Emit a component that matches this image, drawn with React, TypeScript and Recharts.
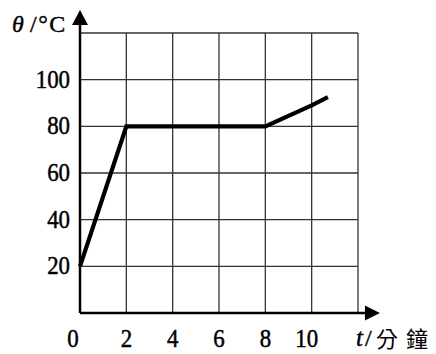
import React from 'react';
import {
  LineChart,
  Line,
  XAxis,
  YAxis,
  CartesianGrid,
  ReferenceLine,
  ReferenceDot,
} from 'recharts';

// time (minutes) and temperature (°C)
const times = [0, 2, 8, 10, 10.7];
const temps = [20, 80, 80, 89, 92.5];

const xTicks = [0, 2, 4, 6, 8, 10, 12];
const yTicks = [0, 20, 40, 60, 80, 100, 120];
const xLabelled = [0, 2, 4, 6, 8, 10];
const yLabelled = [20, 40, 60, 80, 100];

const xAxisEnd = 12.3;
const yAxisEnd = 123.4;

const data = times.map((t, i) => ({ t, temp: temps[i] }));

const FONT = '"Liberation Serif", "Times New Roman", Times, serif';
const CJK = '"Noto Sans CJK TC", "Noto Sans CJK SC", sans-serif';

const xNudge = (v: number) => (v === 0 ? -7 : v === 10 ? -5 : 0);

const renderXTick = (props: any) => {
  const { x, y, payload } = props;
  if (!xLabelled.includes(payload.value)) return <g />;
  return (
    <g transform={`translate(${x + xNudge(payload.value)},${y + 34}) scale(0.88,1)`}>
      <text
        x={0}
        y={0}
        textAnchor="middle"
        fontFamily={FONT}
        fontSize={26}
        fill="#000"
        stroke="#000"
        strokeWidth={0.5}
      >
        {payload.value}
      </text>
    </g>
  );
};

const renderYTick = (props: any) => {
  const { x, y, payload } = props;
  if (!yLabelled.includes(payload.value)) return <g />;
  return (
    <g transform={`translate(${x},${y + 8}) scale(0.88,1)`}>
      <text
        x={0}
        y={0}
        textAnchor="end"
        fontFamily={FONT}
        fontSize={26}
        fill="#000"
        stroke="#000"
        strokeWidth={0.5}
      >
        {payload.value}
      </text>
    </g>
  );
};

const RightArrow = (props: any) => {
  const { cx, cy } = props;
  return <polygon points={`${cx},${cy - 7.5} ${cx + 15},${cy} ${cx},${cy + 7.5}`} fill="#000" />;
};

const UpArrow = (props: any) => {
  const { cx, cy } = props;
  return <polygon points={`${cx - 8},${cy} ${cx},${cy - 15} ${cx + 8},${cy}`} fill="#000" />;
};

const titleBase: React.CSSProperties = {
  position: 'absolute',
  color: '#000',
  whiteSpace: 'nowrap',
  WebkitTextStroke: '0.4px #000',
};

export default function App() {
  return (
    <div style={{ position: 'absolute', left: 0, top: 0, width: 436, height: 354, background: '#fff' }}>
      <LineChart
        width={436}
        height={354}
        data={data}
        margin={{ top: 33, right: 78, bottom: 0, left: 0 }}
      >
        <CartesianGrid stroke="#333" strokeWidth={1.3} />
        <XAxis
          dataKey="t"
          type="number"
          domain={[0, 12]}
          ticks={xTicks}
          height={41}
          axisLine={false}
          tickLine={false}
          tickMargin={0}
          tickSize={0}
          tick={renderXTick}
          interval={0}
        />
        <YAxis
          type="number"
          domain={[0, 120]}
          ticks={yTicks}
          width={80}
          axisLine={false}
          tickLine={false}
          tickSize={0}
          tickMargin={10}
          tick={renderYTick}
          interval={0}
        />
        <ReferenceLine
          segment={[{ x: 0, y: 0 }, { x: xAxisEnd, y: 0 }]}
          stroke="#000"
          strokeWidth={2.5}
          ifOverflow="visible"
        />
        <ReferenceLine
          segment={[{ x: 0, y: 0 }, { x: 0, y: yAxisEnd }]}
          stroke="#000"
          strokeWidth={2.5}
          ifOverflow="visible"
        />
        <ReferenceDot x={xAxisEnd} y={0} ifOverflow="visible" shape={<RightArrow />} />
        <ReferenceDot x={0} y={yAxisEnd} ifOverflow="visible" shape={<UpArrow />} />
        <Line
          type="linear"
          dataKey="temp"
          stroke="#000"
          strokeWidth={4.2}
          dot={false}
          isAnimationActive={false}
          strokeLinejoin="miter"
        />
      </LineChart>
      <div style={{ position: 'absolute', left: 0, top: 0, width: 436, height: 354, pointerEvents: 'none' }}>
        <span
          style={{
            ...titleBase,
            left: 12,
            top: 10,
            fontFamily: FONT,
            fontStyle: 'italic',
            fontSize: 24,
            lineHeight: '28px',
          }}
        >
          θ
        </span>
        <span
          style={{
            ...titleBase,
            left: 30,
            top: 10,
            fontFamily: FONT,
            fontSize: 24,
            lineHeight: '28px',
            letterSpacing: 1.5,
          }}
        >
          /°C
        </span>
        <span
          style={{
            ...titleBase,
            left: 356,
            top: 327,
            fontFamily: FONT,
            fontStyle: 'italic',
            fontSize: 25,
            lineHeight: '22px',
          }}
        >
          t
        </span>
        <span
          style={{
            ...titleBase,
            left: 365,
            top: 327,
            fontFamily: FONT,
            fontSize: 24,
            lineHeight: '22px',
          }}
        >
          /
        </span>
        <span
          style={{
            ...titleBase,
            WebkitTextStroke: '0px',
            left: 376,
            top: 326,
            fontFamily: CJK,
            fontSize: 22,
            lineHeight: '22px',
          }}
        >
          分
        </span>
        <span
          style={{
            ...titleBase,
            WebkitTextStroke: '0px',
            left: 406,
            top: 326,
            fontFamily: CJK,
            fontSize: 22,
            lineHeight: '22px',
          }}
        >
          鐘
        </span>
      </div>
    </div>
  );
}
